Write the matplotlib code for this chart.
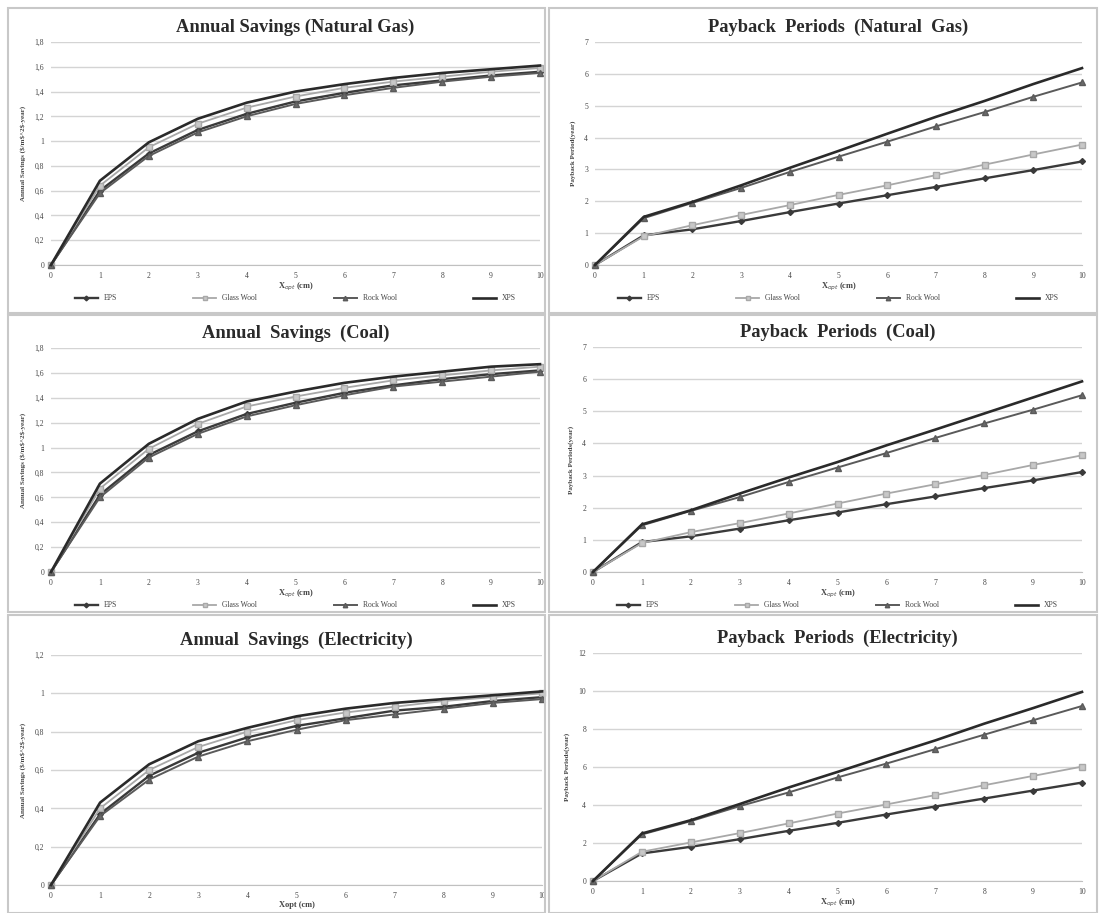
import matplotlib
matplotlib.use("Agg")
import matplotlib.pyplot as plt
from matplotlib.patches import Rectangle
from matplotlib.ticker import FuncFormatter, MultipleLocator

plt.rcParams['font.family'] = ['Liberation Serif', 'DejaVu Serif']

# x axis: optimum insulation thickness (cm)
x_cm = [0, 1, 2, 3, 4, 5, 6, 7, 8, 9, 10]
materials = ["EPS", "Glass Wool", "Rock Wool", "XPS"]

# Annual savings ($/m2-year)
sav_gas_eps = [0, 0.60, 0.90, 1.09, 1.22, 1.32, 1.39, 1.45, 1.49, 1.53, 1.56]
sav_gas_gw = [0, 0.64, 0.95, 1.14, 1.27, 1.36, 1.43, 1.48, 1.52, 1.56, 1.59]
sav_gas_rw = [0, 0.58, 0.88, 1.07, 1.20, 1.30, 1.37, 1.43, 1.48, 1.52, 1.55]
sav_gas_xps = [0, 0.68, 0.99, 1.18, 1.31, 1.40, 1.46, 1.51, 1.55, 1.58, 1.61]

sav_coal_eps = [0, 0.62, 0.94, 1.13, 1.27, 1.36, 1.44, 1.50, 1.55, 1.59, 1.62]
sav_coal_gw = [0, 0.67, 0.99, 1.19, 1.33, 1.41, 1.48, 1.54, 1.58, 1.62, 1.65]
sav_coal_rw = [0, 0.60, 0.92, 1.11, 1.25, 1.34, 1.42, 1.49, 1.53, 1.57, 1.61]
sav_coal_xps = [0, 0.71, 1.03, 1.23, 1.37, 1.45, 1.52, 1.57, 1.61, 1.65, 1.67]

sav_el_eps = [0, 0.37, 0.57, 0.69, 0.77, 0.83, 0.87, 0.91, 0.93, 0.96, 0.98]
sav_el_gw = [0, 0.40, 0.60, 0.72, 0.80, 0.86, 0.90, 0.93, 0.96, 0.98, 1.00]
sav_el_rw = [0, 0.36, 0.55, 0.67, 0.75, 0.81, 0.86, 0.89, 0.92, 0.95, 0.97]
sav_el_xps = [0, 0.43, 0.63, 0.75, 0.82, 0.88, 0.92, 0.95, 0.97, 0.99, 1.01]

# Payback periods (year)
pb_gas_eps = [0, 0.93, 1.12, 1.38, 1.66, 1.93, 2.19, 2.45, 2.72, 2.98, 3.25]
pb_gas_gw = [0, 0.90, 1.25, 1.57, 1.88, 2.20, 2.50, 2.82, 3.15, 3.47, 3.78]
pb_gas_rw = [0, 1.47, 1.95, 2.42, 2.92, 3.40, 3.87, 4.35, 4.80, 5.28, 5.73]
pb_gas_xps = [0, 1.51, 1.98, 2.50, 3.05, 3.58, 4.12, 4.65, 5.15, 5.68, 6.18]

pb_coal_eps = [0, 0.93, 1.11, 1.35, 1.61, 1.85, 2.11, 2.35, 2.61, 2.85, 3.11]
pb_coal_gw = [0, 0.90, 1.24, 1.52, 1.82, 2.13, 2.44, 2.73, 3.02, 3.33, 3.63]
pb_coal_rw = [0, 1.45, 1.90, 2.33, 2.80, 3.25, 3.70, 4.17, 4.62, 5.05, 5.50]
pb_coal_xps = [0, 1.48, 1.92, 2.44, 2.94, 3.42, 3.94, 4.43, 4.93, 5.43, 5.93]

pb_el_eps = [0, 1.45, 1.80, 2.20, 2.64, 3.06, 3.50, 3.92, 4.34, 4.76, 5.18]
pb_el_gw = [0, 1.54, 2.03, 2.52, 3.03, 3.55, 4.03, 4.52, 5.04, 5.53, 6.02]
pb_el_rw = [0, 2.45, 3.15, 3.94, 4.66, 5.45, 6.18, 6.94, 7.70, 8.46, 9.21]
pb_el_xps = [0, 2.50, 3.20, 4.05, 4.92, 5.74, 6.58, 7.40, 8.28, 9.10, 9.95]

W, H = 1099, 913
fig = plt.figure(figsize=(W / 100, H / 100), dpi=100)


def fx(px):
    return px / W


def fy(py):
    return 1 - py / H


# panel boxes (chart areas) in pixels: x0, y0, x1, y1
boxes = [(8, 8, 545, 313), (549, 8, 1097, 313),
         (8, 315, 545, 612), (549, 315, 1097, 612),
         (8, 615, 545, 913), (549, 615, 1097, 913)]
for x0, y0, x1, y1 in boxes:
    fig.patches.append(Rectangle((fx(x0), fy(y1)), fx(x1 - x0), (y1 - y0) / H,
                                 transform=fig.transFigure, fill=False,
                                 edgecolor='#c8c8c8', linewidth=1.5))

# plot areas in pixels: left, top, right, bottom
areas = [(51, 42, 540, 265), (595, 42, 1082, 265),
         (51, 348, 540, 572), (593, 347, 1082, 572),
         (51, 655, 542, 885), (593, 653, 1082, 881)]

styles = {
    "EPS": dict(color='#3a3a3a', marker='D', ms=3, lw=1.7, mfc='#3a3a3a'),
    "Glass Wool": dict(color='#a8a8a8', marker='s', ms=4, lw=1.3, mfc='#c8c8c8'),
    "Rock Wool": dict(color='#5a5a5a', marker='^', ms=4, lw=1.4, mfc='#6a6a6a'),
    "XPS": dict(color='#2a2a2a', marker='', ms=0, lw=1.9),
}

panels = [
    ("Annual Savings (Natural Gas)", [sav_gas_eps, sav_gas_gw, sav_gas_rw, sav_gas_xps],
     1.8, 0.2, "Annual Savings ($/m$^2$-year)", "X$_{opt}$ (cm)", True),
    ("Payback  Periods  (Natural  Gas)", [pb_gas_eps, pb_gas_gw, pb_gas_rw, pb_gas_xps],
     7, 1, "Payback Period(year)", "X$_{opt}$ (cm)", True),
    ("Annual  Savings  (Coal)", [sav_coal_eps, sav_coal_gw, sav_coal_rw, sav_coal_xps],
     1.8, 0.2, "Annual Savings ($/m$^2$-year)", "X$_{opt}$ (cm)", True),
    ("Payback  Periods  (Coal)", [pb_coal_eps, pb_coal_gw, pb_coal_rw, pb_coal_xps],
     7, 1, "Payback Periods(year)", "X$_{opt}$ (cm)", True),
    ("Annual  Savings  (Electricity)", [sav_el_eps, sav_el_gw, sav_el_rw, sav_el_xps],
     1.2, 0.2, "Annual Savings ($/m$^2$-year)", "Xopt (cm)", False),
    ("Payback  Periods  (Electricity)", [pb_el_eps, pb_el_gw, pb_el_rw, pb_el_xps],
     12, 2, "Payback Periods(year)", "X$_{opt}$ (cm)", False),
]

comma = FuncFormatter(lambda v, p: f"{v:g}".replace('.', ','))

for (l, t, r, b), (title, series, ymax, ystep, ylab, xlab, show_leg) in zip(areas, panels):
    ax = fig.add_axes([fx(l), fy(b), fx(r - l), (b - t) / H])
    for name, vals in zip(materials, series):
        ax.plot(x_cm, vals, label=name, clip_on=False, zorder=3, **styles[name])
    ax.set_xlim(0, 10)
    ax.set_ylim(0, ymax)
    ax.xaxis.set_major_locator(MultipleLocator(1))
    ax.yaxis.set_major_locator(MultipleLocator(ystep))
    ax.yaxis.set_major_formatter(comma)
    ax.grid(axis='y', color='#d4d4d4', linewidth=1.0)
    ax.set_axisbelow(True)
    for s in ['top', 'right', 'left']:
        ax.spines[s].set_visible(False)
    ax.spines['bottom'].set_color('#c0c0c0')
    ax.tick_params(length=0, labelsize=5.5, colors='#444444', pad=5)
    ax.set_title(title, fontsize=13.3, fontweight='bold', color='#2a2a2a', pad=7)
    ax.set_ylabel(ylab, fontsize=5, fontweight='bold', color='#444444', labelpad=6)
    ax.set_xlabel(xlab, fontsize=6, fontweight='bold', color='#444444', labelpad=1)
    if show_leg:
        ax.legend(loc='upper center', bbox_to_anchor=(0.5, -0.1), ncol=4, frameon=False,
                  fontsize=5.5, columnspacing=10, handlelength=3, markerscale=0.8,
                  labelcolor='#444444')

fig.savefig("out.png", dpi=100)
